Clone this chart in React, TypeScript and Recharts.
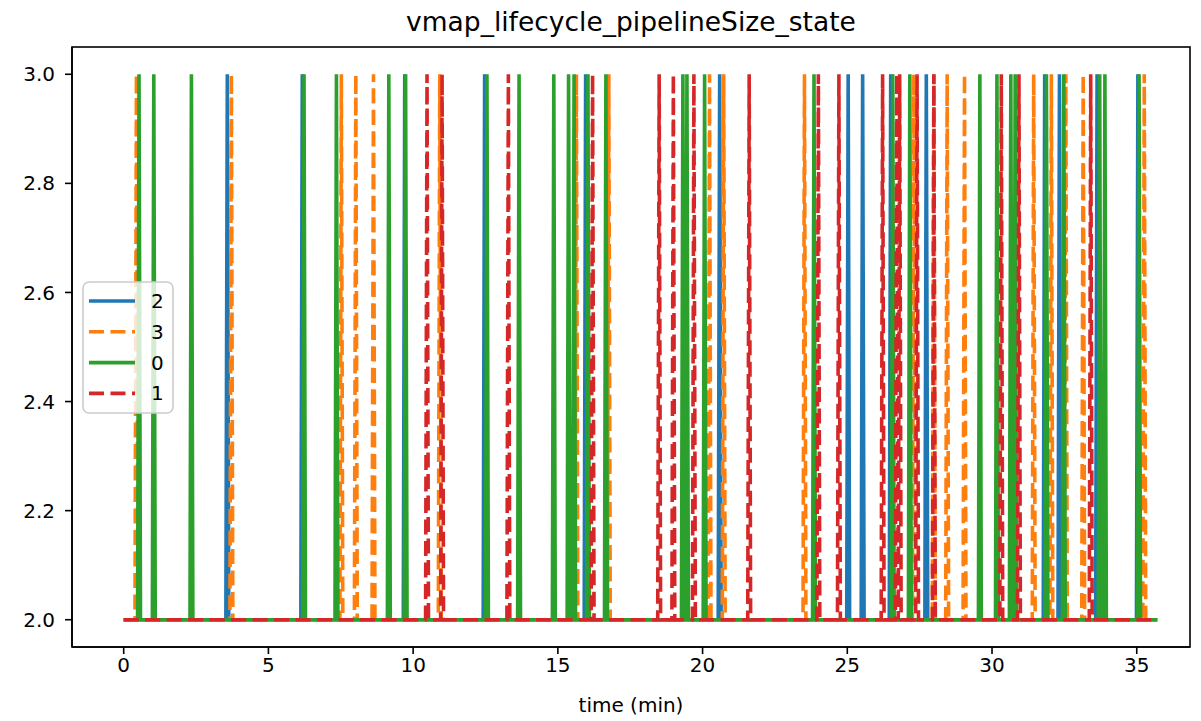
import React from 'react';
import { LineChart, Line, XAxis, YAxis } from 'recharts';

// spike times (minutes) where each series jumps from 2 to 3
const spikes2 = [3.58, 6.17, 9.71, 12.47, 15.96, 20.59, 25.03, 25.53, 26.5, 27.73, 31.82, 32.33, 33.63, 35.04];
const spikes3 = [0.44, 3.72, 7.52, 8.02, 8.63, 10.92, 15.64, 16.76, 20.24, 20.73, 23.52, 27.3, 27.99, 28.45, 29.05, 31.44, 32.05, 32.55, 33.15, 35.26];
const spikes0 = [0.53, 1.04, 2.34, 6.23, 7.35, 9.16, 9.74, 12.55, 13.66, 14.86, 15.37, 15.56, 16.04, 16.66, 19.32, 19.46, 20.07, 23.85, 26.57, 27.16, 29.58, 30.17, 30.65, 30.8, 31.88, 32.48, 33.72, 33.9, 35.08];
const spikes1 = [10.48, 11.0, 13.29, 16.2, 18.5, 18.99, 19.7, 21.61, 24.0, 24.71, 26.22, 26.71, 26.81, 27.41, 27.99, 30.32, 30.93, 33.41];

const baseValue = 2;
const peakValue = 3;
const startTime = 0;
const endTime = 35.71;
const sampleStep = 0.05;

const xTicks = [0, 5, 10, 15, 20, 25, 30, 35];
const yTicks = [2.0, 2.2, 2.4, 2.6, 2.8, 3.0];

const seriesNames = ['2', '3', '0', '1'];
const colors = ['#1f77b4', '#ff7f0e', '#2ca02c', '#d62728'];
const dashed = [false, true, false, true];

function build(spikes: number[]) {
  const pts: { t: number; v: number }[] = [{ t: startTime, v: baseValue }];
  spikes.forEach((s) => {
    pts.push({ t: s - sampleStep, v: baseValue });
    pts.push({ t: s, v: peakValue });
    pts.push({ t: s + sampleStep, v: baseValue });
  });
  pts.push({ t: endTime, v: baseValue });
  return pts;
}

const seriesData = [build(spikes2), build(spikes3), build(spikes0), build(spikes1)];

const FONT = 'DejaVu Sans, sans-serif';
const DASH = '15 6.5';

export default function App() {
  const plotLeft = 72;
  const plotTop = 47;
  const plotRight = 1190;
  const plotBottom = 647;
  const legendX = 83;
  const legendY = 282;
  const rowGap = 30.8;
  return (
    <div style={{ position: 'absolute', left: 0, top: 0, width: 1201, height: 721, background: '#fff' }}>
      <LineChart width={1201} height={721} margin={{ top: plotTop, right: 1201 - plotRight, bottom: 0, left: 0 }}>
        <XAxis
          dataKey="t"
          type="number"
          domain={[-1.786, 36.84]}
          allowDataOverflow
          ticks={xTicks}
          tickSize={7}
          tickMargin={4}
          height={721 - plotBottom}
          stroke="#000"
          tick={{ fill: '#000', fontSize: 20, fontFamily: FONT }}
          tickLine={{ stroke: '#000', strokeWidth: 1.6 }}
          axisLine={{ stroke: '#000', strokeWidth: 1.6 }}
          label={{ value: 'time (min)', position: 'insideBottom', offset: 9, fill: '#000', fontSize: 20, fontFamily: FONT }}
        />
        <YAxis
          dataKey="v"
          type="number"
          domain={[1.95, 3.05]}
          allowDataOverflow
          ticks={yTicks}
          tickFormatter={(v: number) => v.toFixed(1)}
          tickSize={7}
          tickMargin={10}
          width={plotLeft}
          stroke="#000"
          tick={{ fill: '#000', fontSize: 20, fontFamily: FONT }}
          tickLine={{ stroke: '#000', strokeWidth: 1.6 }}
          axisLine={{ stroke: '#000', strokeWidth: 1.6 }}
        />
        {seriesData.map((d, i) => (
          <Line
            key={seriesNames[i]}
            data={d}
            dataKey="v"
            name={seriesNames[i]}
            type="linear"
            stroke={colors[i]}
            strokeWidth={3.6}
            strokeDasharray={dashed[i] ? DASH : undefined}
            dot={false}
            activeDot={false}
            isAnimationActive={false}
          />
        ))}
      </LineChart>
      <svg width={1201} height={721} style={{ position: 'absolute', left: 0, top: 0, pointerEvents: 'none' }}>
        <rect x={plotLeft} y={plotTop} width={plotRight - plotLeft} height={plotBottom - plotTop} fill="none" stroke="#000" strokeWidth={1.6} />
        <text x={(plotLeft + plotRight) / 2} y={31} textAnchor="middle" fontSize={26.5} fontFamily={FONT} fill="#000">
          vmap_lifecycle_pipelineSize_state
        </text>
        <rect x={legendX} y={legendY} width={90} height={131} rx={6} ry={6} fill="#fff" fillOpacity={0.8} stroke="#cccccc" strokeWidth={1.6} />
        {seriesNames.map((n, i) => {
          const cy = legendY + 19 + i * rowGap;
          return (
            <g key={n}>
              <line x1={89} x2={135} y1={cy} y2={cy} stroke={colors[i]} strokeWidth={3.6} strokeDasharray={dashed[i] ? DASH : undefined} />
              <text x={151} y={cy + 7} fontSize={20} fontFamily={FONT} fill="#000">{n}</text>
            </g>
          );
        })}
      </svg>
    </div>
  );
}
